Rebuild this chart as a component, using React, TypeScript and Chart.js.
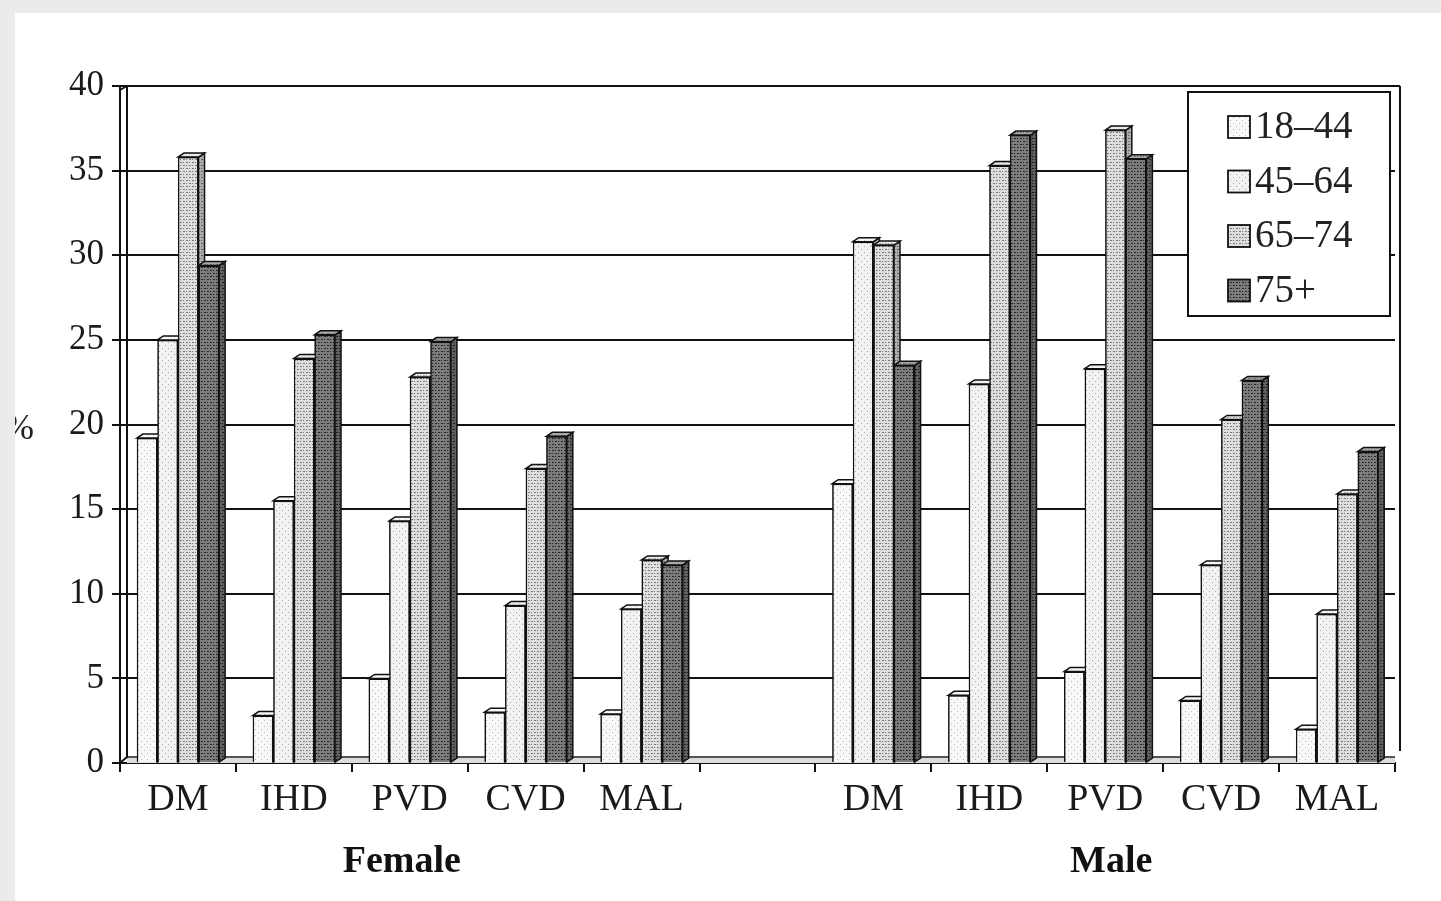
import React, { useEffect, useRef } from "react";
import { Chart, registerables } from "chart.js";

Chart.register(...registerables);

// Disease categories: female block, an empty spacer slot, then male block
const categories = ["DM", "IHD", "PVD", "CVD", "MAL", "", "DM", "IHD", "PVD", "CVD", "MAL"];
const groupLabels = ["Female", "Male"];
const ageGroups = ["18–44", "45–64", "65–74", "75+"];

// Prevalence (%) by age group, female then male, in category order
const female18to44 = [19.2, 2.8, 5.0, 3.0, 2.9];
const female45to64 = [25.0, 15.5, 14.3, 9.3, 9.1];
const female65to74 = [35.8, 23.9, 22.8, 17.4, 12.0];
const female75plus = [29.4, 25.3, 24.9, 19.3, 11.7];

const male18to44 = [16.5, 4.0, 5.4, 3.7, 2.0];
const male45to64 = [30.8, 22.4, 23.3, 11.7, 8.8];
const male65to74 = [30.6, 35.3, 37.4, 20.3, 15.9];
const male75plus = [23.5, 37.1, 35.7, 22.6, 18.4];

const yMin = 0;
const yMax = 40;
const yStep = 5;

const SERIF = "'Liberation Serif', 'DejaVu Serif', serif";

function joinSeries(f: number[], m: number[]): (number | null)[] {
  return [...f, null, ...m];
}

const seriesValues = [
  joinSeries(female18to44, male18to44),
  joinSeries(female45to64, male45to64),
  joinSeries(female65to74, male65to74),
  joinSeries(female75plus, male75plus),
];

// Stippled fills for the four age groups
function makePattern(bg: string, dot: string, step: number, dense: boolean): CanvasPattern | string {
  const c = document.createElement("canvas");
  c.width = step * 2;
  c.height = step * 2;
  const g = c.getContext("2d");
  if (!g) return bg;
  g.fillStyle = bg;
  g.fillRect(0, 0, c.width, c.height);
  g.fillStyle = dot;
  g.fillRect(0, 0, 1, 1);
  g.fillRect(step, step, 1, 1);
  if (dense) {
    g.fillRect(1, 0, 1, 1);
    g.fillRect(step + 1, step, 1, 1);
    g.fillRect(0, step, 1, 1);
    g.fillRect(step, 0, 1, 1);
  }
  const p = g.createPattern(c, "repeat");
  return p || bg;
}

const SIDE_DX = 6;
const SIDE_DY = 4;
const FLOOR_H = 6;

const chartDecor = {
  id: "chartDecor",
  beforeDatasetsDraw(chart: any) {
    const { ctx, chartArea } = chart;
    const { left, right, bottom } = chartArea;
    ctx.save();
    // floor slab
    ctx.fillStyle = "#dcdcdc";
    ctx.fillRect(left + 7, bottom - FLOOR_H, right - left - 7, FLOOR_H);
    ctx.strokeStyle = "#222";
    ctx.lineWidth = 1.5;
    ctx.beginPath();
    ctx.moveTo(left + 7, bottom - FLOOR_H);
    ctx.lineTo(right, bottom - FLOOR_H);
    ctx.stroke();
    ctx.restore();
  },
  afterDatasetsDraw(chart: any) {
    const { ctx } = chart;
    ctx.save();
    chart.data.datasets.forEach((ds: any, i: number) => {
      const meta = chart.getDatasetMeta(i);
      meta.data.forEach((el: any, j: number) => {
        const v = ds.data[j];
        if (v === null || v === undefined) return;
        el.draw(ctx);
        const { x, y, base, width } = el.getProps(["x", "y", "base", "width"], true);
        const l = x - width / 2;
        const r = x + width / 2;
        // right side face
        ctx.beginPath();
        ctx.moveTo(r, y);
        ctx.lineTo(r + SIDE_DX, y - SIDE_DY);
        ctx.lineTo(r + SIDE_DX, base - SIDE_DY);
        ctx.lineTo(r, base);
        ctx.closePath();
        ctx.fillStyle = ds.backgroundColor;
        ctx.fill();
        ctx.fillStyle = "rgba(0,0,0,0.22)";
        ctx.fill();
        ctx.strokeStyle = "#111";
        ctx.lineWidth = 1.5;
        ctx.stroke();
        // top cap
        ctx.beginPath();
        ctx.moveTo(l, y);
        ctx.lineTo(l + SIDE_DX, y - SIDE_DY);
        ctx.lineTo(r + SIDE_DX, y - SIDE_DY);
        ctx.lineTo(r, y);
        ctx.closePath();
        ctx.fillStyle = ds.backgroundColor;
        ctx.fill();
        ctx.fillStyle = "rgba(255,255,255,0.35)";
        ctx.fill();
        ctx.stroke();
      });
    });
    ctx.restore();
  },
  afterDraw(chart: any) {
    const { ctx, chartArea, scales } = chart;
    const { left, right, top, bottom } = chartArea;
    ctx.save();
    // back wall: inner edge of the left wall and the right edge
    ctx.strokeStyle = "#111";
    ctx.lineWidth = 2;
    ctx.beginPath();
    ctx.moveTo(left + 7, top);
    ctx.lineTo(left + 7, bottom - FLOOR_H);
    ctx.lineTo(left, bottom);
    ctx.moveTo(left, top + 4);
    ctx.lineTo(left + 7, top);
    ctx.moveTo(right + 5, top);
    ctx.lineTo(right + 5, bottom - FLOOR_H - 6);
    ctx.moveTo(left + 7, top);
    ctx.lineTo(right + 5, top);
    ctx.stroke();

    // axis title
    ctx.fillStyle = "#222";
    ctx.font = `36px ${SERIF}`;
    ctx.textAlign = "center";
    ctx.textBaseline = "middle";
    ctx.fillText("%", 19, 430);

    // group labels under the categories
    const xs = scales.x;
    ctx.font = `bold 38px ${SERIF}`;
    ctx.fillStyle = "#111";
    ctx.fillText(groupLabels[0], xs.getPixelForValue(2) - 8, 862);
    ctx.fillText(groupLabels[1], xs.getPixelForValue(8) + 6, 862);

    // legend box
    const bx = right - 207;
    const by = top + 6;
    const bw = 202;
    const bh = 224;
    ctx.fillStyle = "#ffffff";
    ctx.fillRect(bx, by, bw, bh);
    ctx.strokeStyle = "#111";
    ctx.lineWidth = 2;
    ctx.strokeRect(bx, by, bw, bh);
    ctx.font = `39px ${SERIF}`;
    ctx.textAlign = "left";
    chart.data.datasets.forEach((ds: any, i: number) => {
      const cy = by + 35 + i * 54.5;
      ctx.fillStyle = ds.backgroundColor;
      ctx.fillRect(bx + 40, cy - 11, 22, 22);
      ctx.lineWidth = 1.8;
      ctx.strokeRect(bx + 40, cy - 11, 22, 22);
      ctx.fillStyle = "#222";
      ctx.fillText(ds.label, bx + 67, cy + 1);
    });
    ctx.restore();
  },
};

export default function App() {
  const canvasRef = useRef<HTMLCanvasElement | null>(null);

  useEffect(() => {
    document.body.style.margin = "0";
    const canvas = canvasRef.current;
    if (!canvas) return;

    const fills = [
      makePattern("#f8f8f8", "#b8b8b8", 3, false),
      makePattern("#f2f2f2", "#a8a8a8", 3, false),
      makePattern("#dedede", "#7a7a7a", 3, true),
      makePattern("#7c7c7c", "#262626", 3, true),
    ];

    const chart = new Chart(canvas, {
      type: "bar",
      data: {
        labels: categories,
        datasets: ageGroups.map((label, i) => ({
          label,
          data: seriesValues[i],
          backgroundColor: fills[i] as any,
          borderColor: "#111",
          borderWidth: 1.5,
          categoryPercentage: 0.71,
          barPercentage: 1.0,
        })),
      },
      plugins: [chartDecor],
      options: {
        responsive: false,
        animation: false,
        events: [],
        layout: { padding: { top: 86, right: 46, left: 0, bottom: 0 } },
        plugins: {
          legend: { display: false },
          tooltip: { enabled: false },
          title: { display: false },
        },
        scales: {
          x: {
            afterFit: (scale: any) => {
              scale.height = 138;
            },
            grid: {
              display: true,
              offset: true,
              drawOnChartArea: false,
              drawTicks: true,
              tickLength: 9,
              color: "#111",
              lineWidth: 2,
            },
            border: { display: true, color: "#111", width: 2 },
            ticks: {
              color: "#1a1a1a",
              font: { family: SERIF, size: 38 },
              padding: 5,
              maxRotation: 0,
              autoSkip: false,
            },
          },
          y: {
            min: yMin,
            max: yMax,
            afterFit: (scale: any) => {
              scale.width = 120;
            },
            grid: {
              color: "#111",
              lineWidth: 2,
              drawTicks: true,
              tickLength: 8,
            },
            border: { display: true, color: "#111", width: 2 },
            ticks: {
              stepSize: yStep,
              color: "#1a1a1a",
              font: { family: SERIF, size: 35 },
              padding: 8,
            },
          },
        },
      },
    });

    return () => {
      chart.destroy();
    };
  }, []);

  return (
    <div style={{ position: "fixed", left: 0, top: 0, width: 1441, height: 901, background: "#fff", overflow: "hidden" }}>
      <canvas ref={canvasRef} width={1441} height={901} style={{ display: "block" }} />
      <div style={{ position: "absolute", left: 0, top: 0, width: 1441, height: 13, background: "#ebebeb" }} />
      <div style={{ position: "absolute", left: 0, top: 0, width: 15, height: 901, background: "#ebebeb" }} />
    </div>
  );
}
